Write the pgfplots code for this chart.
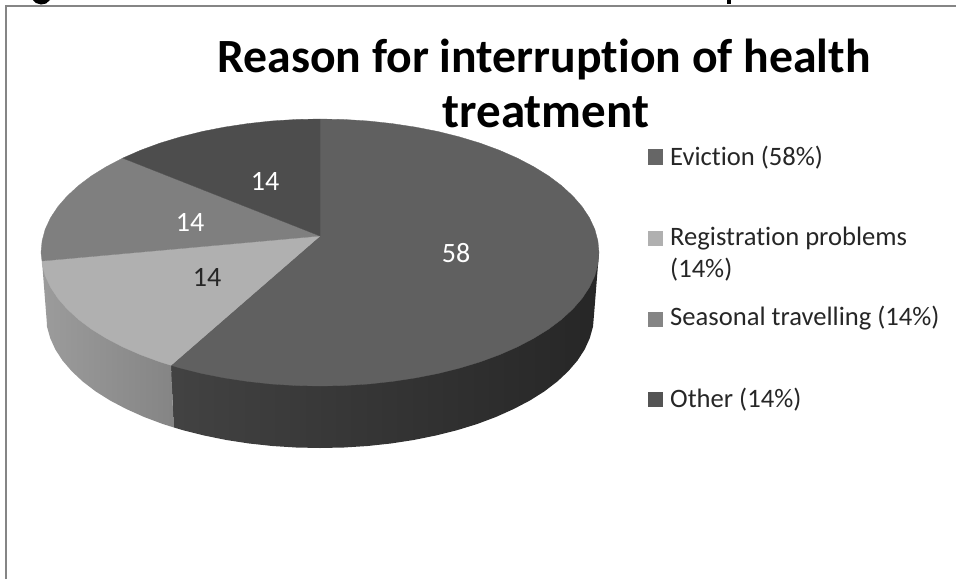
\documentclass[border=0pt]{standalone}
\usepackage{pgfplots}
\pgfplotsset{compat=1.18}
\usepackage{fontspec}
\setmainfont{Carlito}[Ligatures=NoCommon]
\definecolor{evict}{HTML}{606060}
\definecolor{regis}{HTML}{B0B0B0}
\definecolor{seas}{HTML}{7F7F7F}
\definecolor{othr}{HTML}{4D4D4D}
\definecolor{frame}{HTML}{858585}
\begin{document}
\begin{tikzpicture}
\useasboundingbox (0,0) rectangle (956pt,579pt);
\begin{axis}[
  at={(0,0)}, anchor=south west,
  hide axis, scale only axis, width=956pt, height=579pt,
  xmin=0, xmax=956, ymin=0, ymax=579, y dir=reverse, clip=true,
  every axis plot/.append style={mark=none, forget plot},
]
% frame of the picture
\addplot[draw=frame, line width=2.4pt] coordinates {(6,579) (6,6) (956,6)};
% clipped letters of the heading above the frame
\addplot[fill=black, draw=none] coordinates {(33,0) (36,3) (41,4.5) (46,3.5) (50,0)};
\addplot[fill=black, draw=none] coordinates {(727,0) (727,4) (731,4) (731,0)};
% side walls
\addplot[draw=none, left color=black!74, middle color=black!82, right color=black!85] coordinates {
(599,252.5) (594,315) (593,326.6) (589.8,338.1) (584.7,349.4) (577.5,360.5) (568.3,371.2) (557.3,381.5)
(544.5,391.3) (529.9,400.5) (513.7,409) (496.1,416.9) (477.2,424) (457,430.2) (435.8,435.5) (413.7,440)
(390.9,443.5) (367.6,446) (343.9,447.5) (320,448) (296.1,447.5) (272.4,446) (249.1,443.5) (226.3,440)
(204.2,435.5) (183,430.2) (173.7,427.4) (171,365.3) (320,300) (599,252.5)};
\addplot[draw=none, left color=black!39, right color=black!48] coordinates {
(171,365.3) (173.7,427.4) (162.8,424) (143.9,416.9) (126.3,409) (110.1,400.5) (95.5,391.3) (82.7,381.5)
(71.7,371.2) (62.5,360.5) (55.3,349.4) (50.2,338.1) (47,326.6) (46.9,323.5) (42,261) (171,300) (171,365.3)};
% top face: Eviction 58
\addplot[fill=evict, draw=evict, line width=0.3pt] coordinates {
(320,236) (320,119) (344.3,119.5) (368.4,121) (392.2,123.6) (415.4,127.1) (437.9,131.5) (459.5,136.9) (480,143.1)
(499.3,150.2) (517.3,158.1) (533.7,166.7) (548.6,175.9) (561.6,185.7) (572.9,196.1) (582.2,206.8) (589.5,217.9)
(594.8,229.3) (597.9,240.9) (599,252.5) (597.9,264.1) (594.8,275.7) (589.5,287.1) (582.2,298.2) (572.9,308.9)
(561.6,319.3) (548.6,329.1) (533.7,338.3) (517.3,346.9) (499.3,354.8) (480,361.9) (459.5,368.1) (437.9,373.5)
(415.4,377.9) (392.2,381.4) (368.4,384) (344.3,385.5) (320,386) (295.7,385.5) (271.6,384) (247.8,381.4)
(224.6,377.9) (202.1,373.5) (180.5,368.1) (171,365.3) (320,236)};
% Registration problems 14
\addplot[fill=regis, draw=regis, line width=0.3pt] coordinates {
(320,236) (171,365.3) (160,361.9) (140.7,354.8) (122.7,346.9) (106.3,338.3) (91.4,329.1) (78.4,319.3) (67.1,308.9)
(57.8,298.2) (50.5,287.1) (45.2,275.7) (42.1,264.1) (42,261) (320,236)};
% Seasonal travelling 14
\addplot[fill=seas, draw=seas, line width=0.3pt] coordinates {
(320,236) (42,261) (41,252.5) (42.1,240.9) (45.2,229.3) (50.5,217.9) (57.8,206.8) (67.1,196.1) (78.4,185.7)
(91.4,175.9) (106.3,166.7) (122.7,158.1) (320,236)};
% Other 14
\addplot[fill=othr, draw=othr, line width=0.3pt] coordinates {
(320,236) (122.7,158.1) (140.7,150.2) (160,143.1) (180.5,136.9) (202.1,131.5) (224.6,127.1) (247.8,123.6)
(271.6,121) (295.7,119.5) (320,119) (320,236)};
% legend keys
\addplot[fill=black!60, draw=none] coordinates {(648,149) (663,149) (663,165) (648,165)};
\addplot[fill=regis, draw=none] coordinates {(648,231) (663,231) (663,246) (648,246)};
\addplot[fill=black!48, draw=none] coordinates {(648,312) (663,312) (663,327) (648,327)};
\addplot[fill=black!67, draw=none] coordinates {(648,392) (663,392) (663,407) (648,407)};
% title
\node[anchor=base, font=\fontsize{47.7}{47.7}\selectfont\bfseries] at (axis cs:544,72) {Reason for interruption of health};
\node[anchor=base, font=\fontsize{49}{49}\selectfont\bfseries] at (axis cs:546,127) {treatment};
% data labels
\node[anchor=base, text=white, font=\fontsize{28}{28}\selectfont] at (axis cs:265,190) {14};
\node[anchor=base, text=white, font=\fontsize{28}{28}\selectfont] at (axis cs:190,231) {14};
\node[anchor=base, text=black!85, font=\fontsize{28}{28}\selectfont] at (axis cs:207,286) {14};
\node[anchor=base, text=white, font=\fontsize{28}{28}\selectfont] at (axis cs:456,262) {58};
% legend text
\def\lg#1#2#3{\node[anchor=base west, inner sep=0pt, text=black!85, font=\fontsize{26.6}{26.6}\selectfont] at (axis cs:#1,#2) {#3};}
\lg{670}{165}{Eviction (58\%)}
\lg{670}{245}{Registration problems}
\lg{670}{277}{(14\%)}
\lg{670}{325}{Seasonal travelling (14\%)}
\lg{670}{407}{Other (14\%)}
\end{axis}
\end{tikzpicture}
\end{document}
